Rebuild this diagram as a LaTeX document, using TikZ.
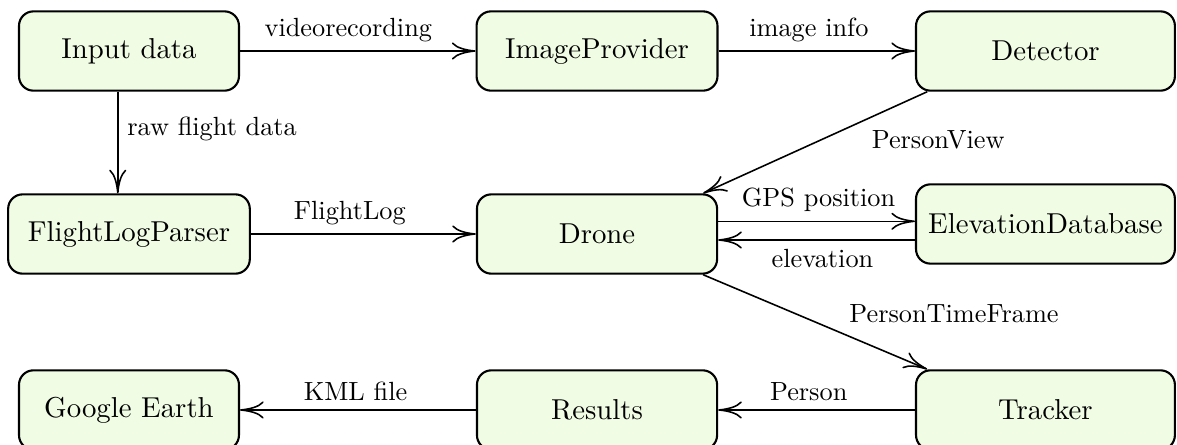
\documentclass[tikz,border=0pt]{standalone}
\usepackage{tikz}
\usetikzlibrary{arrows.meta}
\definecolor{boxfill}{RGB}{240,252,228}

\begin{document}
\begin{tikzpicture}[
  block/.style={draw, thick, rounded corners=5.5pt, fill=boxfill, minimum height=1.06cm,
    inner sep=2pt, font=\fontsize{10.95}{13.6}\selectfont},
  flow/.style={semithick, -{To[length=9pt,width=6.5pt]}}]
  \useasboundingbox (0,0) rectangle (15.732,-5.948);
  \node[block, minimum width=2.94cm] at (1.724, -0.682) (indata) {Input data};
  \node[block, minimum width=3.22cm] at (7.980, -0.682) (imgprov) {ImageProvider};
  \node[block, minimum width=3.46cm] at (13.974, -0.682) (detector) {Detector};
  \node[block, minimum width=3.23cm] at (1.724, -3.128) (parser) {FlightLogParser};
  \node[block, minimum width=3.21cm] at (7.980, -3.128) (drone) {Drone};
  \node[block, minimum width=3.46cm] at (13.974, -2.994) (elevdb) {ElevationDatabase};
  \node[block, minimum width=2.94cm] at (1.724, -5.480) (gearth) {Google Earth};
  \node[block, minimum width=3.21cm] at (7.980, -5.480) (results) {Results};
  \node[block, minimum width=3.46cm] at (13.974, -5.480) (tracker) {Tracker};
  \coordinate (gps) at ([yshift=0.17cm]drone.east);
  \coordinate (elev) at ([yshift=-0.08cm]drone.east);
  \draw[flow] (indata) -- (imgprov) node[above, pos=0.46] {videorecording};
  \draw[flow] (imgprov) -- (detector) node[above, pos=0.46] {image info};
  \draw[flow] ([xshift=-0.15cm]indata.south) -- ([xshift=-0.15cm]parser.north)
    node[right, pos=0.37] {raw flight data};
  \draw[flow] (parser) -- (drone) node[above, pos=0.44] {FlightLog};
  \draw[flow] (detector.199) -- (drone.21) node[below right, pos=0.29] {PersonView};
  \draw[flow] (gps) -- (gps -| elevdb.west) node[above, pos=0.51] {GPS position};
  \draw[flow] (elev -| elevdb.west) -- (elev) node[below, pos=0.47] {elevation};
  \draw[flow] (drone.339) -- (tracker.161) node[above right, pos=0.61] {PersonTimeFrame};
  \draw[flow] (tracker) -- (results) node[above, pos=0.54] {Person};
  \draw[flow] (results) -- (gearth) node[above, pos=0.51] {KML file};
\end{tikzpicture}
\end{document}
